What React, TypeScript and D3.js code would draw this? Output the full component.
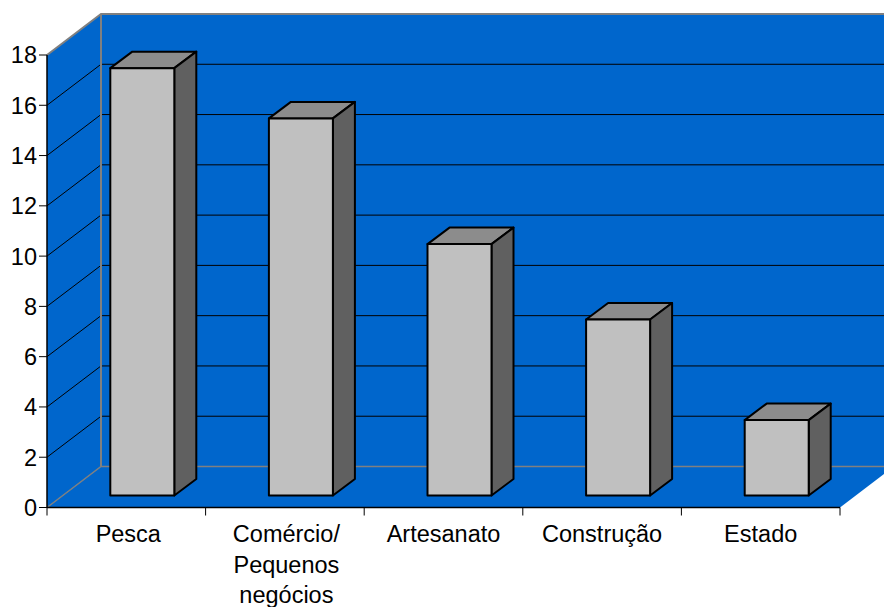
import React from "react";
import * as d3 from "d3";

const categories = ["Pesca", "Comércio/\nPequenos\nnegócios", "Artesanato", "Construção", "Estado"];
const values = [17, 15, 10, 7, 3];
const yTicks = [0, 2, 4, 6, 8, 10, 12, 14, 16, 18];

const WIDTH = 884;
const HEIGHT = 607;
const DEPTH_X = 54;
const DEPTH_Y = -41;
const BAR_DX = 16;
const BAR_DY = -12;
const BAR_DEPTH_X = 22;
const BAR_DEPTH_Y = -16.5;

const BLUE = "#0066cc";
const WALL_EDGE = "#808080";
const FONT = "'Liberation Sans', Arial, sans-serif";

const labelNudge = [2, 1.5, 0, 0, 0];

const y = d3.scaleLinear().domain([0, 18]).range([507.5, 55]);
const x = d3.scaleBand<number>().domain(d3.range(categories.length)).range([47, 840]).paddingInner(0).paddingOuter(0);
const poly = (pts: [number, number][]) => d3.line()(pts) + "Z";

export default function App() {
  const left = 47;
  const right = 840;
  const y0 = y(0);
  const yTop = y(18);
  const band = x.bandwidth();
  const barW = 64;
  return (
    <svg
      width={WIDTH}
      height={HEIGHT}
      style={{ position: "absolute", left: 0, top: 0, background: "#fff", fontFamily: FONT }}
    >
      {/* walls and floor */}
      <path
        d={poly([[left, y0], [left + DEPTH_X, y0 + DEPTH_Y], [left + DEPTH_X, yTop + DEPTH_Y], [left, yTop]])}
        fill={BLUE}
      />
      <path
        d={poly([[left + DEPTH_X, y0 + DEPTH_Y], [right + DEPTH_X, y0 + DEPTH_Y], [right + DEPTH_X, yTop + DEPTH_Y], [left + DEPTH_X, yTop + DEPTH_Y]])}
        fill={BLUE}
      />
      <path
        d={poly([[left, y0], [right, y0], [right + DEPTH_X, y0 + DEPTH_Y], [left + DEPTH_X, y0 + DEPTH_Y]])}
        fill={BLUE}
      />

      {/* gridlines across the side and back walls */}
      {yTicks.filter((t) => t > 0 && t < 18).map((t) => (
        <path
          key={t}
          d={`M${left},${y(t)}L${left + DEPTH_X},${y(t) + DEPTH_Y}L${right + DEPTH_X},${y(t) + DEPTH_Y}`}
          fill="none"
          stroke="#000"
          strokeWidth={1}
        />
      ))}

      {/* grey wall edges */}
      <path
        d={`M${left},${yTop}L${left + DEPTH_X},${yTop + DEPTH_Y}L${right + DEPTH_X},${yTop + DEPTH_Y}`}
        fill="none"
        stroke={WALL_EDGE}
        strokeWidth={2}
      />
      <path
        d={`M${left + DEPTH_X},${yTop + DEPTH_Y}V${y0 + DEPTH_Y}`}
        fill="none"
        stroke={WALL_EDGE}
        strokeWidth={2}
      />
      <path
        d={`M${left},${y0}L${left + DEPTH_X},${y0 + DEPTH_Y}L${right + DEPTH_X},${y0 + DEPTH_Y}`}
        fill="none"
        stroke={WALL_EDGE}
        strokeWidth={1.5}
      />

      {/* 3D columns */}
      {values.map((v, i) => {
        const x0 = (x(i) as number) + (band - barW) / 2 + BAR_DX;
        const x1 = x0 + barW;
        const base = y0 + BAR_DY;
        const top = y(v) + BAR_DY;
        const dx = BAR_DEPTH_X;
        const dy = BAR_DEPTH_Y;
        return (
          <g key={i} stroke="#000" strokeWidth={2} strokeLinejoin="round">
            <path d={poly([[x0, top], [x0 + dx, top + dy], [x1 + dx, top + dy], [x1, top]])} fill="#8c8c8c" />
            <path d={poly([[x1, top], [x1 + dx, top + dy], [x1 + dx, base + dy], [x1, base]])} fill="#606060" />
            <rect x={x0} y={top} width={barW} height={base - top} fill="#c0c0c0" />
          </g>
        );
      })}

      {/* value axis */}
      <path d={`M${left},${yTop}V${y0}`} stroke="#000" strokeWidth={1.5} fill="none" />
      {yTicks.map((t) => (
        <g key={t}>
          <line x1={left - 8} x2={left} y1={y(t)} y2={y(t)} stroke="#000" strokeWidth={1} />
          <text x={37} y={y(t)} dy="0.36em" textAnchor="end" fontSize={23.5} fill="#000">
            {t}
          </text>
        </g>
      ))}

      {/* category axis */}
      <path d={`M${left},${y0}H${right}`} stroke="#000" strokeWidth={1.5} fill="none" />
      {d3.range(categories.length + 1).map((i) => {
        const tx = left + i * band;
        return <line key={i} x1={tx} x2={tx} y1={y0} y2={y0 + 8} stroke="#000" strokeWidth={1} />;
      })}
      {categories.map((c, i) => (
        <text key={i} textAnchor="middle" fontSize={23.5} fill="#000">
          {c.split("\n").map((line, j) => (
            <tspan key={j} x={(x(i) as number) + band / 2 + labelNudge[i]} y={542 + j * 30.5}>
              {line}
            </tspan>
          ))}
        </text>
      ))}
    </svg>
  );
}
